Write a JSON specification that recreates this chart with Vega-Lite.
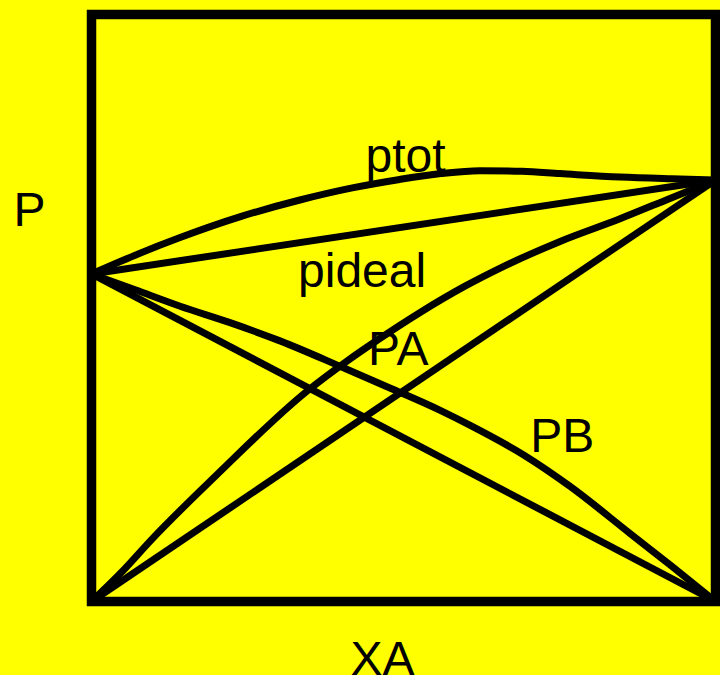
{
  "$schema": "https://vega.github.io/schema/vega-lite/v6.json",
  "width": 624,
  "height": 587,
  "autosize": "none",
  "padding": {"left": 91.5, "top": 14.5, "right": 4.5, "bottom": 73.5},
  "background": "#ffff00",
  "config": {
    "view": {"stroke": "#000000", "strokeWidth": 9.5, "fill": "#ffff00"},
    "font": "Liberation Sans"
  },
  "datasets": {
    "curves": [
      {"series": "ptot", "xA": 0, "P": 55.8},
      {"series": "ptot", "xA": 0.07, "P": 59.0},
      {"series": "ptot", "xA": 0.142, "P": 62.0},
      {"series": "ptot", "xA": 0.24, "P": 65.6},
      {"series": "ptot", "xA": 0.334, "P": 68.4},
      {"series": "ptot", "xA": 0.42, "P": 70.5},
      {"series": "ptot", "xA": 0.494, "P": 71.9},
      {"series": "ptot", "xA": 0.56, "P": 72.9},
      {"series": "ptot", "xA": 0.622, "P": 73.4},
      {"series": "ptot", "xA": 0.69, "P": 73.3},
      {"series": "ptot", "xA": 0.751, "P": 72.9},
      {"series": "ptot", "xA": 0.847, "P": 72.3},
      {"series": "ptot", "xA": 0.93, "P": 72.0},
      {"series": "ptot", "xA": 1, "P": 71.8},
      {"series": "pideal", "xA": 0, "P": 55.8},
      {"series": "pideal", "xA": 1, "P": 71.8},
      {"series": "PA ideal", "xA": 0, "P": 0},
      {"series": "PA ideal", "xA": 1, "P": 71.8},
      {"series": "PB ideal", "xA": 0, "P": 55.8},
      {"series": "PB ideal", "xA": 1, "P": 0},
      {"series": "PA", "xA": 0, "P": 0},
      {"series": "PA", "xA": 0.05, "P": 5.2},
      {"series": "PA", "xA": 0.094, "P": 10.3},
      {"series": "PA", "xA": 0.2, "P": 21.5},
      {"series": "PA", "xA": 0.345, "P": 35.8},
      {"series": "PA", "xA": 0.41, "P": 41.0},
      {"series": "PA", "xA": 0.462, "P": 44.8},
      {"series": "PA", "xA": 0.526, "P": 49.2},
      {"series": "PA", "xA": 0.6, "P": 53.8},
      {"series": "PA", "xA": 0.655, "P": 56.8},
      {"series": "PA", "xA": 0.75, "P": 61.3},
      {"series": "PA", "xA": 0.847, "P": 65.2},
      {"series": "PA", "xA": 0.93, "P": 68.8},
      {"series": "PA", "xA": 1, "P": 71.8},
      {"series": "PB", "xA": 0, "P": 55.8},
      {"series": "PB", "xA": 0.07, "P": 53.1},
      {"series": "PB", "xA": 0.142, "P": 50.3},
      {"series": "PB", "xA": 0.222, "P": 47.5},
      {"series": "PB", "xA": 0.302, "P": 44.4},
      {"series": "PB", "xA": 0.4, "P": 40.0},
      {"series": "PB", "xA": 0.48, "P": 36.3},
      {"series": "PB", "xA": 0.558, "P": 32.6},
      {"series": "PB", "xA": 0.607, "P": 30.0},
      {"series": "PB", "xA": 0.692, "P": 25.0},
      {"series": "PB", "xA": 0.767, "P": 19.6},
      {"series": "PB", "xA": 0.863, "P": 11.6},
      {"series": "PB", "xA": 0.93, "P": 6.0},
      {"series": "PB", "xA": 1, "P": 0}
    ],
    "labels": [
      {"label": "ptot", "xA": 0.439, "P": 73.2},
      {"label": "pideal", "xA": 0.331, "P": 53.6},
      {"label": "PA", "xA": 0.443, "P": 40.3},
      {"label": "PB", "xA": 0.703, "P": 25.5}
    ]
  },
  "layer": [
    {
      "data": {"name": "curves"},
      "mark": {"type": "line", "color": "#000000", "strokeWidth": 7, "strokeCap": "butt", "strokeJoin": "round", "interpolate": "monotone"},
      "encoding": {
        "x": {
          "field": "xA", "type": "quantitative",
          "scale": {"domain": [0, 1], "nice": false, "zero": false},
          "axis": {
            "title": "XA", "labels": false, "ticks": false, "domain": false, "grid": false,
            "titleFont": "Liberation Sans", "titleFontSize": 48, "titleFontWeight": "normal", "titleColor": "#000000",
            "titleX": 290.5, "titleY": 72.5, "titleAlign": "center", "titleBaseline": "alphabetic"
          }
        },
        "y": {
          "field": "P", "type": "quantitative",
          "scale": {"domain": [0, 100], "nice": false, "zero": false},
          "axis": {
            "title": "P", "labels": false, "ticks": false, "domain": false, "grid": false,
            "titleFont": "Liberation Sans", "titleFontSize": 48, "titleFontWeight": "normal", "titleColor": "#000000",
            "titleAngle": 0, "titleX": -78.5, "titleY": 210.5, "titleAlign": "left", "titleBaseline": "alphabetic"
          }
        },
        "detail": {"field": "series", "type": "nominal"},
        "order": {"field": "xA", "type": "quantitative"}
      }
    },
    {
      "data": {"name": "labels"},
      "mark": {"type": "text", "align": "left", "baseline": "alphabetic", "font": "Liberation Sans", "fontSize": 48, "color": "#000000"},
      "encoding": {
        "x": {"field": "xA", "type": "quantitative"},
        "y": {"field": "P", "type": "quantitative"},
        "text": {"field": "label", "type": "nominal"}
      }
    }
  ]
}
